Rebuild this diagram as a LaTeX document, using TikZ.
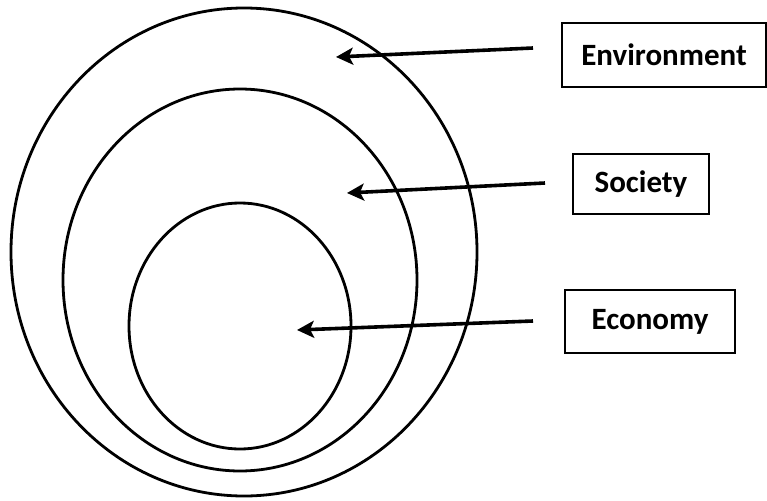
\documentclass[tikz,border=0pt]{standalone}
\usepackage{fontspec}
\setmainfont{Carlito}
\usetikzlibrary{arrows.meta}
\begin{document}
\begin{tikzpicture}[x=1pt,y=-1pt,
  ring/.style={line width=2.8pt},
  labelbox/.style={draw, line width=1.5pt, inner sep=0pt,
    font=\fontsize{31}{36}\selectfont\bfseries},
  pointer/.style={line width=3.6pt, -{Stealth[length=17pt,width=17pt,inset=4pt]}}]
\useasboundingbox (0,0) rectangle (767,500);
% the three nested rings
\draw[ring] (244,252) ellipse [x radius=233, y radius=244];
\draw[ring] (240,280) ellipse [x radius=177, y radius=191];
\draw[ring] (240,326) ellipse [x radius=111, y radius=123];
% labels
\node[labelbox, minimum width=204pt, minimum height=64pt] (envbox) at (664,55) {Environment};
\node[labelbox, minimum width=136pt, minimum height=60pt] (socbox) at (641,184) {Society};
\node[labelbox, minimum width=170pt, minimum height=63pt] (ecobox) at (650,321.5) {Economy};
% arrows into the rings
\coordinate (envfrom) at (533,48);
\coordinate (envto) at (336,57);
\coordinate (socfrom) at (545,183);
\coordinate (socto) at (347,193);
\coordinate (ecofrom) at (533,321);
\coordinate (ecoto) at (297,330);
\draw[pointer] (envfrom) -- (envto);
\draw[pointer] (socfrom) -- (socto);
\draw[pointer] (ecofrom) -- (ecoto);
\end{tikzpicture}
\end{document}
